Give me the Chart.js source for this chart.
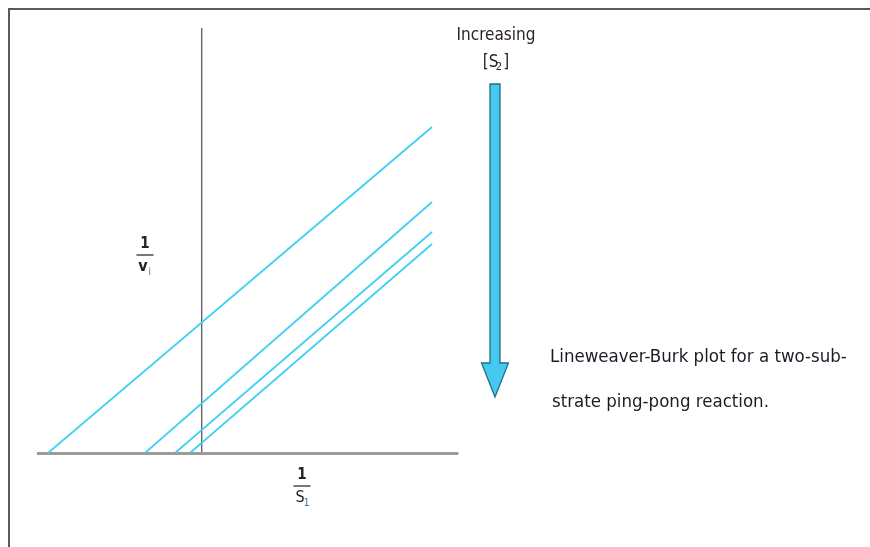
<!DOCTYPE html>
<html lang="en">
<head>
    <meta charset="UTF-8">
    <title>Lineweaver-Burk plot, ping-pong reaction</title>
    <script src="https://cdn.jsdelivr.net/npm/chart.js"></script>
    <style>
        html, body { margin: 0; padding: 0; background: #fff; }
        .frame { position: absolute; left: 8px; top: 8px; width: 870px; height: 547px;
                 border-top: 2px solid #5a5a5a; border-left: 2px solid #5a5a5a; }
        .wrap { position: absolute; left: 0; top: 0; width: 870px; height: 547px; }
    </style>
</head>
<body>
    <div class="frame"></div>
    <div class="wrap"><canvas id="lb"></canvas></div>

    <script>
        // 1/S1 and 1/v values, in arbitrary units (y-axis at 1/S1 = 0)
        const seriesNames = ["S2 lowest", "S2 low", "S2 high", "S2 highest"];
        const invS1 = [
            [-1.54, 2.30],
            [-0.57, 2.30],
            [-0.27, 2.30],
            [-0.12, 2.30]
        ];
        const invV = [
            [0, 3.26],
            [0, 2.51],
            [0, 2.21],
            [0, 2.09]
        ];
        const xRange = [-1.64, 2.56];
        const yRange = [0, 4.25];

        const lineColor = "#3fd0f2";

        let datasets = seriesNames.map((name, i) => ({
            label: name,
            data: invS1[i].map((x, j) => ({ x: x, y: invV[i][j] })),
            borderColor: lineColor,
            borderWidth: 1.8,
            pointRadius: 0,
            fill: false,
            tension: 0
        }));

        // text labels + arrow, placed with the chart's scales
        const annotations = {
            id: "annotations",
            afterDraw(chart) {
                const ctx = chart.ctx;
                const xs = chart.scales.x, ys = chart.scales.y;
                const px = v => xs.getPixelForValue(v);
                const py = v => ys.getPixelForValue(v);
                ctx.save();
                ctx.fillStyle = "#222";
                ctx.textAlign = "center";
                ctx.textBaseline = "middle";

                // fraction helper
                function fraction(cx, cy, bottom, sub, w, boldBottom) {
                    ctx.fillStyle = "#222";
                    ctx.font = "bold 15px 'DejaVu Sans Condensed', Arial";
                    ctx.fillText("1", cx, cy - 11);
                    ctx.strokeStyle = "#555";
                    ctx.lineWidth = 1.6;
                    ctx.beginPath();
                    ctx.moveTo(cx - w / 2, cy);
                    ctx.lineTo(cx + w / 2, cy);
                    ctx.stroke();
                    ctx.font = (boldBottom ? "bold " : "") + "16px 'DejaVu Sans Condensed', Arial";
                    const bw = ctx.measureText(bottom).width;
                    ctx.fillText(bottom, cx - 2, cy + 12);
                    ctx.font = "10px 'DejaVu Sans Condensed', Arial";
                    ctx.fillStyle = "#4a6fa8";
                    ctx.fillText(sub, cx - 2 + bw / 2 + 2, cy + 17);
                }
                fraction(px(-0.57), py(1.98), "v", "i", 17, true);
                fraction(px(1.00), py(-0.33), "S", "1", 17, false);

                // "Increasing [S2]"
                ctx.fillStyle = "#2e2228";
                ctx.font = "17px 'DejaVu Sans Condensed', Arial";
                ctx.fillText("Increasing", px(2.94), py(4.17));
                const sx = px(2.94), sy = py(3.90);
                ctx.fillText("[S ]", sx, sy);
                ctx.font = "11px 'DejaVu Sans Condensed', Arial";
                ctx.fillText("2", sx + 3, sy + 4);

                // arrow
                const ax = px(2.93), top = py(3.69), neck = py(0.90), tip = py(0.56);
                ctx.fillStyle = "#45c9f0";
                ctx.strokeStyle = "#1f6f88";
                ctx.lineWidth = 1.3;
                ctx.beginPath();
                ctx.moveTo(ax - 5, top);
                ctx.lineTo(ax + 5, top);
                ctx.lineTo(ax + 5, neck);
                ctx.lineTo(ax + 13.5, neck);
                ctx.lineTo(ax, tip);
                ctx.lineTo(ax - 13.5, neck);
                ctx.lineTo(ax - 5, neck);
                ctx.closePath();
                ctx.fill();
                ctx.stroke();

                // caption
                ctx.fillStyle = "#1f1a26";
                ctx.textAlign = "left";
                ctx.font = "18.5px 'DejaVu Sans Condensed', Arial";
                ctx.fillText("Lineweaver-Burk plot for a two-sub-", px(3.48), py(0.96));
                ctx.fillText("strate ping-pong reaction.", px(3.50), py(0.51));
                ctx.restore();
            }
        };

        new Chart(document.getElementById("lb"), {
            type: "line",
            data: { datasets: datasets },
            options: {
                responsive: true,
                maintainAspectRatio: false,
                animation: false,
                layout: { padding: { left: 38, right: 412, top: 28, bottom: 94 } },
                plugins: { legend: { display: false }, tooltip: { enabled: false } },
                scales: {
                    x: {
                        type: "linear",
                        min: xRange[0],
                        max: xRange[1],
                        afterBuildTicks: s => { s.ticks = [{ value: 0 }]; },
                        ticks: { display: false },
                        grid: { color: "#666", lineWidth: 1.4, drawTicks: false },
                        border: { display: true, color: "#9b9b9b", width: 3 }
                    },
                    y: {
                        type: "linear",
                        min: yRange[0],
                        max: yRange[1],
                        ticks: { display: false },
                        grid: { display: false, drawTicks: false },
                        border: { display: false }
                    }
                }
            },
            plugins: [annotations]
        });
    </script>
</body>
</html>
